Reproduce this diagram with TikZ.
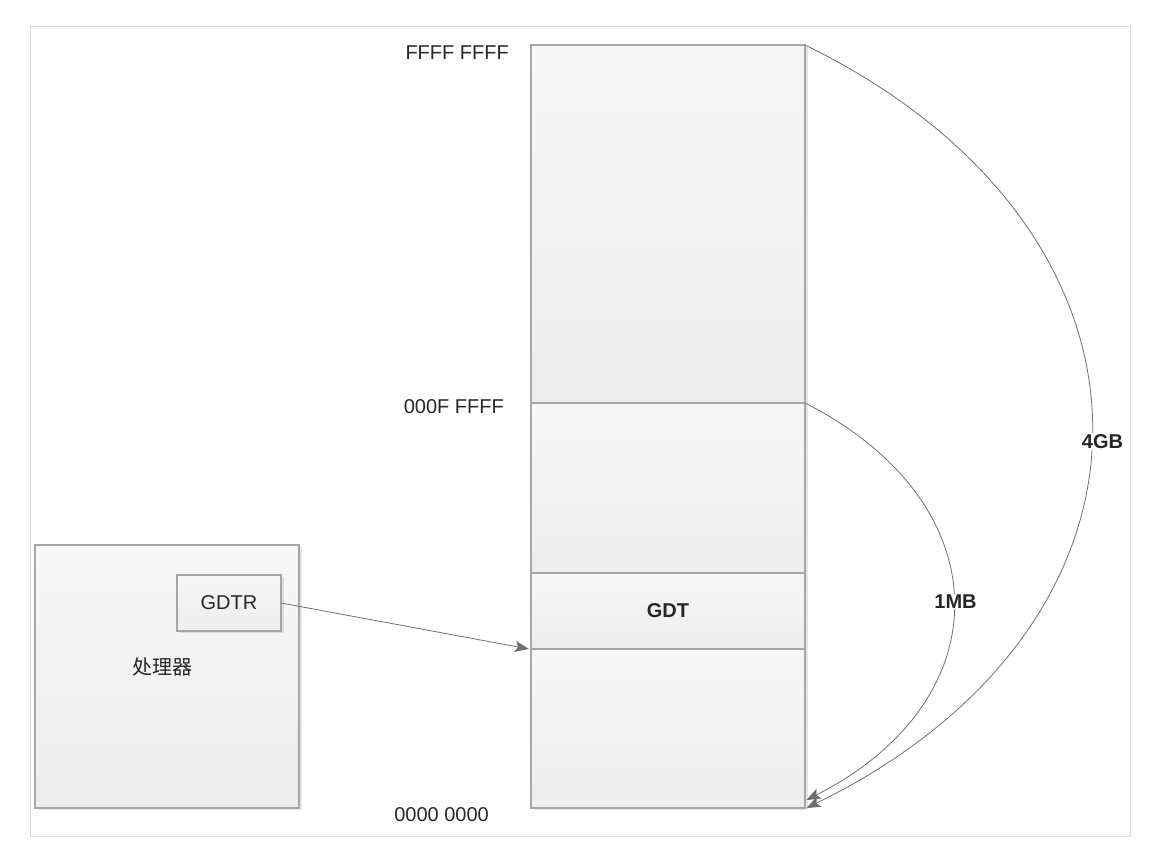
\documentclass[tikz,border=0pt]{standalone}
\usepackage{fontspec}
\setmainfont{Liberation Sans}
\newfontfamily\cjk{Noto Sans CJK SC}
\usetikzlibrary{positioning,arrows.meta,shadows}
\definecolor{boxline}{HTML}{A6A6A6}
\definecolor{linegray}{HTML}{6E6E6E}
\definecolor{txtgray}{HTML}{262626}
\definecolor{framegray}{HTML}{DADADA}
\tikzstyle{membox} = [draw=boxline, line width=1.2pt, rectangle, outer sep=0pt,
    inner sep=0pt, top color=white!97!black, bottom color=white!93!black,
    minimum width=274pt, text=txtgray, font=\fontsize{20}{24}\selectfont,
    drop shadow={shadow xshift=2.5pt, shadow yshift=-2.5pt, fill=black, opacity=0.1}]
\tikzstyle{addr} = [inner sep=0pt, text=txtgray, font=\fontsize{20}{24}\selectfont]
\tikzstyle{size} = [fill=white, inner sep=1pt, text=txtgray, font=\fontsize{20}{24}\selectfont\bfseries]
\tikzstyle{conn} = [draw=linegray, line width=0.8pt,
    -{Stealth[length=14pt, width=11pt, inset=3pt, fill=linegray]}]

\begin{document}
\begin{tikzpicture}[x=1pt, y=1pt]
\useasboundingbox (0,0) rectangle (1176,858);
\draw[framegray, line width=0.8pt] (30,22) rectangle (1130,832);
\node[membox, minimum height=358pt, anchor=north west] (high) at (531,813) {};
\node[membox, minimum height=170pt, below=0pt of high] (mid) {};
\node[membox, minimum height=76pt, below=0pt of mid, font=\fontsize{20}{24}\selectfont\bfseries] (gdt) {GDT};
\node[membox, minimum height=159pt, below=0pt of gdt] (low) {};
\node[membox, minimum width=264pt, minimum height=263pt, anchor=south west] (cpu) at (35,50) {};
\node[membox, minimum width=104pt, minimum height=56pt, below left=30pt and 18pt of cpu.north east] (gdtr) {GDTR};
\node[addr, font=\cjk\fontsize{20}{24}\selectfont] (cpulabel) at ([xshift=-5pt, yshift=10pt]cpu.center) {处理器};
\node[addr, left=22pt of high.north west, yshift=-8pt] (top) {FFFF FFFF};
\node[addr, left=27pt of mid.north west, yshift=-4pt] (onemb) {000F FFFF};
\node[addr, left=42pt of low.south west, yshift=-7pt] (zero) {0000 0000};
\draw[conn] (gdtr.east) -- ([xshift=-2pt]gdt.south west);
\draw[conn] (high.north east) .. controls +(381,-186) and +(381,186) .. ([xshift=1.5pt]low.south east)
    node[size, pos=0.5, xshift=11pt, yshift=-15pt] (four) {4GB};
\draw[conn] (mid.north east) .. controls +(197,-100) and +(197,100) .. ([xshift=1.5pt, yshift=8pt]low.south east)
    node[size, pos=0.5, xshift=2pt] (one) {1MB};
\end{tikzpicture}
\end{document}
